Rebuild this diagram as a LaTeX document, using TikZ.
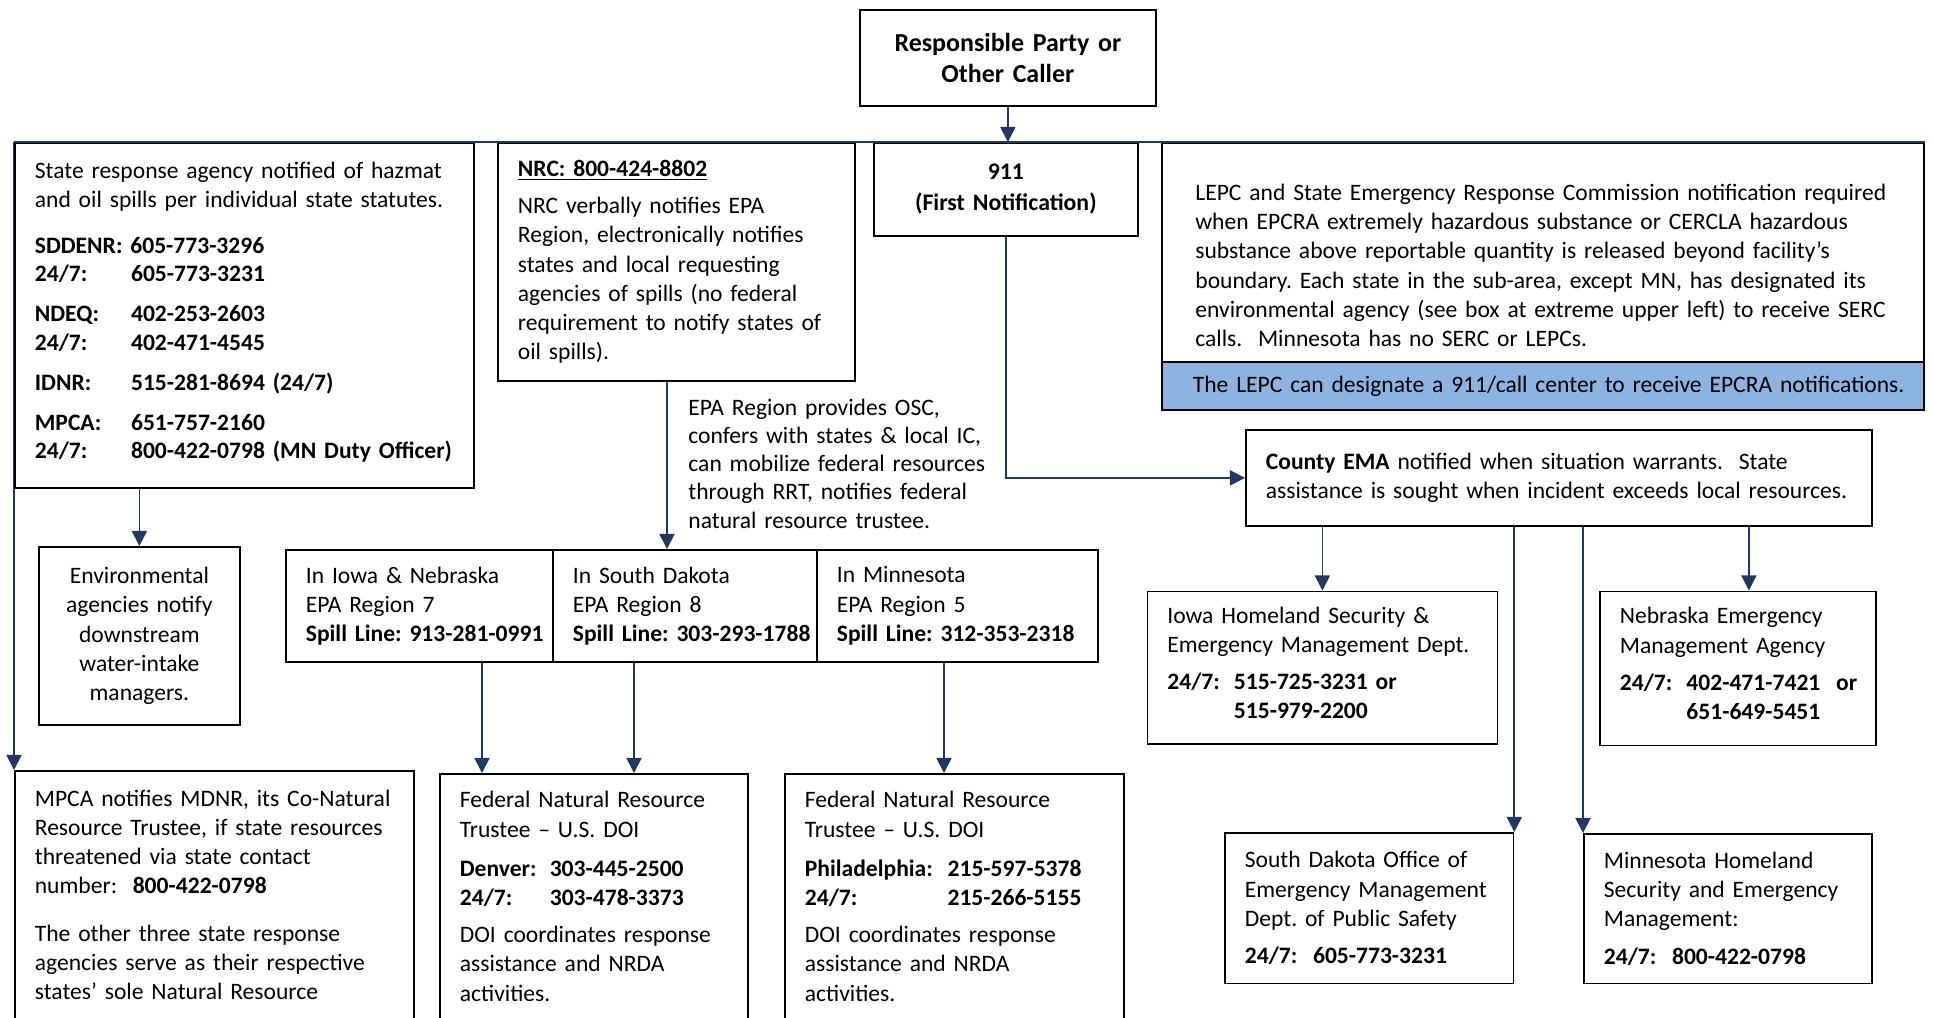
\documentclass[tikz,border=0pt]{standalone}
\usepackage{fontspec}
\setmainfont{Carlito}
\usetikzlibrary{arrows.meta}

\definecolor{navy}{HTML}{1F3864}
\definecolor{bleuclair}{HTML}{8DB3E2}

\def\u{0.4625pt}
\def\sansCoupure{\frenchspacing\hyphenpenalty=10000\linepenalty=1000\rightskip=0pt plus 1fil minus 100pt}
\def\basFin{\rule[-4.5pt]{0pt}{1pt}}

\begin{document}
\begin{tikzpicture}[x=\u,y=-\u]
\tikzstyle{cadre}=[draw,line width=0.8pt,fill=white,anchor=north west,inner xsep=20*\u,inner ysep=0pt,font=\fontsize{10.9}{13.5}\selectfont]
\tikzstyle{boite}=[cadre,align=left,execute at begin node=\sansCoupure]
\tikzstyle{centre}=[cadre,align=center,execute at begin node=\frenchspacing]
\tikzstyle{titre}=[centre,font=\fontsize{12}{14.5}\selectfont\bfseries]
\tikzstyle{texte}=[anchor=base west,align=left,inner sep=0pt,font=\fontsize{10.9}{13.1}\selectfont,execute at begin node=\sansCoupure]
\tikzstyle{fleche}=[-{Triangle[length=7pt,width=7pt]},navy,line width=0.8pt]
\tikzstyle{barre}=[navy,line width=1.2pt]

\useasboundingbox (0,0) rectangle (1933,1017);
\clip (0,0) rectangle (1933,1017);

\coordinate (barL) at (14,142);
\coordinate (barR) at (1925,142);

% bas gauche
\node[boite,minimum width=399*\u,minimum height=277*\u,text width=359*\u] (mpca) at (14,770) {MPCA notifies MDNR, its Co-Natural\\
Resource Trustee, if state resources\\
threatened via state contact\\
number:~ \textbf{800-422-0798}\\[8.3pt]
The other three state response\\
agencies serve as their respective\\
states’ sole Natural Resource\\
\mbox{}};
\draw[fleche] (barL) -- (mpca.north west);

% haut
\node[titre,minimum width=296*\u,minimum height=96*\u,text width=256*\u] (resp) at (859,9) {Responsible Party or\\Other Caller};

\node[boite,font=\fontsize{10.9}{13.2}\selectfont,minimum width=459*\u,minimum height=345*\u,text width=419*\u] (etat) at (14,142) {State response agency notified of hazmat\\
and oil spills per individual state statutes.\\[8.1pt]
\textbf{SDDENR: 605-773-3296}\\
\textbf{\makebox[44.5pt][l]{24/7:}605-773-3231}\\[5.3pt]
\textbf{\makebox[44.5pt][l]{NDEQ:}402-253-2603}\\
\textbf{\makebox[44.5pt][l]{24/7:}402-471-4545}\\[5.3pt]
\textbf{\makebox[44.5pt][l]{IDNR:}515-281-8694 (24/7)}\\[5.3pt]
\textbf{\makebox[44.5pt][l]{MPCA:}651-757-2160}\\
\textbf{\makebox[44.5pt][l]{24/7:}800-422-0798 (MN Duty Officer)}\basFin};

\node[boite,minimum width=357*\u,minimum height=238*\u,text width=317*\u] (nrc) at (497,142) {\underline{\textbf{NRC: 800-424-8802}}\\[3.7pt]
NRC verbally notifies EPA\\
Region, electronically notifies\\
states and local requesting\\
agencies of spills (no federal\\
requirement to notify states of\\
oil spills).};

\node[titre,font=\fontsize{11}{14.3}\selectfont\bfseries,minimum width=264*\u,minimum height=93*\u,text width=224*\u] (n911) at (873,142) {911\\(First Notification)};

\node[boite,inner xsep=33.5*\u,minimum width=762*\u,minimum height=219*\u,text width=695*\u] (lepc) at (1161,142) {\rule{0pt}{19.6pt}LEPC and State Emergency Response Commission notification required\\
when EPCRA extremely hazardous substance or CERCLA hazardous\\
substance above reportable quantity is released beyond facility’s\\
boundary. Each state in the sub-area, except MN, has designated its\\
environmental agency (see box at extreme upper left) to receive SERC\\
calls.~ Minnesota has no SERC or LEPCs.};
\node[boite,fill=bleuclair,inner xsep=31*\u,minimum width=762*\u,minimum height=48*\u,text width=700*\u] (lepcb) at (1161,361) {The LEPC can designate a 911/call center to receive EPCRA notifications.};

\draw[barre] (barL) -- (barR);
\draw[fleche] (resp.south) -- (resp.south |- barL);

% milieu
\node[centre,minimum width=201*\u,minimum height=178*\u,text width=161*\u] (env) at (38,546) {Environmental\\agencies notify\\downstream\\water-intake\\managers.};
\draw[fleche] (etat.south -| env.north) -- (env.north);

\node[texte,text width=300*\u] (epatxt) at (688,415) {EPA Region provides OSC,\\
confers with states \& local IC,\\
can mobilize federal resources\\
through RRT, notifies federal\\
natural resource trustee.};

\node[boite,minimum width=267*\u,minimum height=112*\u,text width=227*\u] (r7) at (285,549) {In Iowa \& Nebraska\\EPA Region 7\\\textbf{Spill Line: 913-281-0991}};
\node[boite,minimum width=264*\u,minimum height=112*\u,text width=224*\u] (r8) at (552,549) {In South Dakota\\EPA Region 8\\\textbf{Spill Line: 303-293-1788}};
\node[boite,minimum width=281*\u,minimum height=112*\u,text width=241*\u] (r5) at (816,549) {In Minnesota\\EPA Region 5\\\textbf{Spill Line: 312-353-2318}};

\path (nrc.south west) ++(170,0) coordinate (dnrc);
\draw[fleche] (dnrc) -- (dnrc |- r8.north);

\node[boite,minimum width=626*\u,minimum height=96*\u,text width=586*\u] (ema) at (1245,429) {\textbf{County EMA} notified when situation warrants.~ State\\
assistance is sought when incident exceeds local resources.};
\draw[fleche] (n911.south) |- (ema.west);

% bas
\node[boite,minimum width=308*\u,minimum height=274*\u,text width=268*\u] (fed1) at (439,773) {Federal Natural Resource\\
Trustee – U.S. DOI\\[4.6pt]
\textbf{\makebox[41.6pt][l]{Denver:}303-445-2500}\\
\textbf{\makebox[41.6pt][l]{24/7:}303-478-3373}\\[3.7pt]
DOI coordinates response\\
assistance and NRDA\\
activities.\\
\mbox{}};
\node[boite,minimum width=339*\u,minimum height=274*\u,text width=299*\u] (fed2) at (784,773) {Federal Natural Resource\\
Trustee – U.S. DOI\\[4.6pt]
\textbf{\makebox[66pt][l]{Philadelphia:}215-597-5378}\\
\textbf{\makebox[66pt][l]{24/7:}215-266-5155}\\[3.7pt]
DOI coordinates response\\
assistance and NRDA\\
activities.\\
\mbox{}};

\path (r7.south west) ++(197,0) coordinate (d7);
\path (r8.south west) ++(82,0) coordinate (d8);
\path (r5.south west) ++(128,0) coordinate (d5);
\draw[fleche] (d7) -- (d7 |- fed1.north);
\draw[fleche] (d8) -- (d8 |- fed1.north);
\draw[fleche] (d5) -- (d5 |- fed2.north);

\node[boite,minimum width=350*\u,minimum height=152.5*\u,text width=310*\u] (iowa) at (1146.5,590.5) {Iowa Homeland Security \&\\
Emergency Management Dept.\\[3.7pt]
\textbf{\makebox[30.8pt][l]{24/7:}515-725-3231 or}\\
\textbf{\hspace*{30.8pt}515-979-2200}\basFin};
\node[boite,minimum width=276*\u,minimum height=154*\u,text width=236*\u] (neb) at (1599,590.5) {Nebraska Emergency\\
Management Agency\\[3.7pt]
\textbf{\makebox[30.8pt][l]{24/7:}402-471-7421~ or}\\
\textbf{\hspace*{30.8pt}651-649-5451}\basFin};
\node[boite,minimum width=288.6*\u,minimum height=150.5*\u,text width=248.6*\u] (sd) at (1224,832) {South Dakota Office of\\
Emergency Management\\
Dept. of Public Safety\\[3.7pt]
\textbf{24/7:~ 605-773-3231}};
\node[boite,minimum width=288*\u,minimum height=149.5*\u,text width=248*\u] (mn) at (1583,833) {Minnesota Homeland\\
Security and Emergency\\
Management:\\[3.7pt]
\textbf{24/7:~ 800-422-0798}};

\path (neb.north) ++(11,0) coordinate (dneb);
\draw[fleche] (ema.south -| iowa.north) -- (iowa.north);
\draw[fleche] (dneb |- ema.south) -- (dneb);
\draw[fleche] (ema.south -| sd.north east) -- (sd.north east);
\draw[fleche] (ema.south -| mn.north west) -- (mn.north west);

\end{tikzpicture}
\end{document}
